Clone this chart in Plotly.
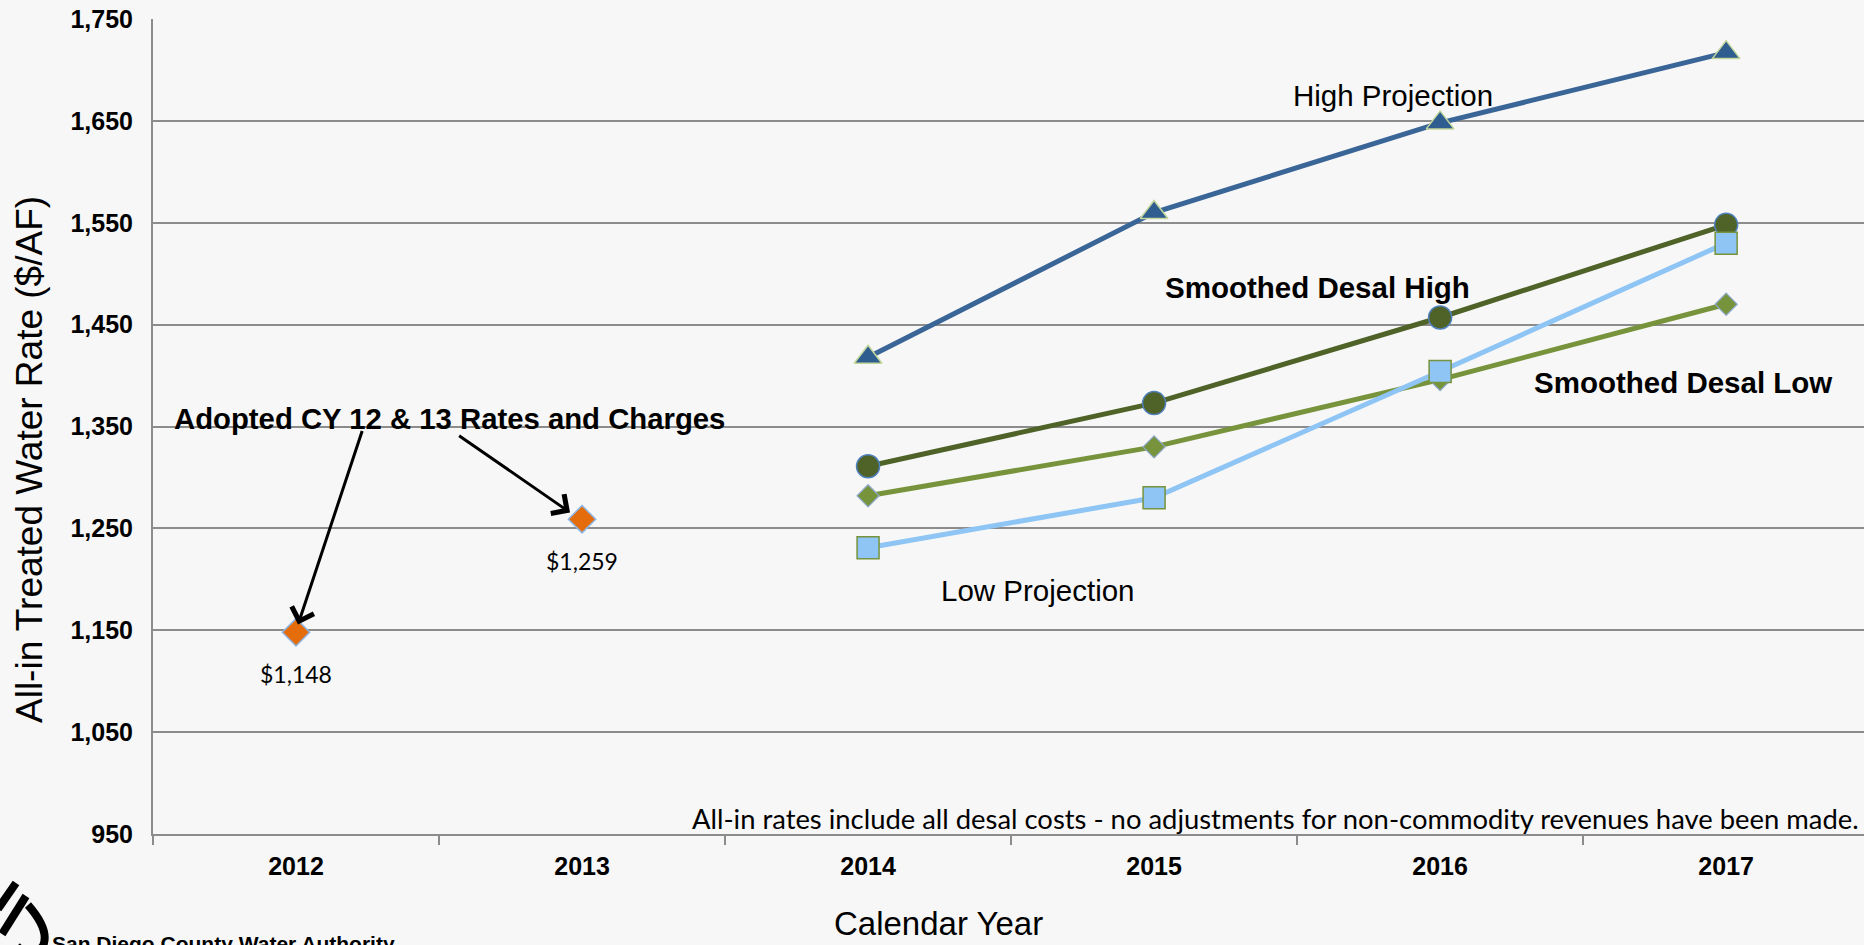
import plotly.graph_objects as go

# ---- data -------------------------------------------------------------
years = ["2012", "2013", "2014", "2015", "2016", "2017"]
adopted_years = ["2012", "2013"]
adopted_rates = [1148, 1259]

proj_years = ["2014", "2015", "2016", "2017"]
high_projection = [1418, 1560, 1648, 1717]
desal_high = [1311, 1373, 1457, 1548]
desal_low = [1282, 1330, 1396, 1470]
low_projection = [1231, 1280, 1404, 1530]

y_ticks = [950, 1050, 1150, 1250, 1350, 1450, 1550, 1650, 1750]

# ---- figure geometry ---------------------------------------------------
W, H = 1864, 945
M_L, M_R, M_T, M_B = 153, 0, 19, 111
BG = "#f7f7f7"
GRID = "#8c8c8c"
ARIAL = "Liberation Sans, Arial, sans-serif"
CALIBRI = "Lato, Carlito, Calibri, sans-serif"


def paper_x(px):
    return (px - M_L) / (W - M_L - M_R)


def paper_y(py):
    return (H - M_B - py) / (H - M_T - M_B)


fig = go.Figure()

fig.add_trace(go.Scatter(
    x=proj_years, y=high_projection, mode="lines+markers", name="High Projection",
    line=dict(color="#3a6597", width=5),
    marker=dict(symbol="triangle-up", size=24, color="#2f5d8f",
                line=dict(color="#c3d69b", width=1.5)),
))
fig.add_trace(go.Scatter(
    x=proj_years, y=desal_high, mode="lines+markers", name="Smoothed Desal High",
    line=dict(color="#4f6228", width=5),
    marker=dict(symbol="circle", size=23, color="#4f6228",
                line=dict(color="#4f81bd", width=1.5)),
))
fig.add_trace(go.Scatter(
    x=proj_years, y=desal_low, mode="lines+markers", name="Smoothed Desal Low",
    line=dict(color="#77933c", width=5),
    marker=dict(symbol="diamond", size=17, color="#77933c",
                line=dict(color="#8ea9c9", width=1.2)),
))
fig.add_trace(go.Scatter(
    x=proj_years, y=low_projection, mode="lines+markers", name="Low Projection",
    line=dict(color="#8ec5f4", width=5),
    marker=dict(symbol="square", size=22, color="#8ec5f4",
                line=dict(color="#77933c", width=1.5)),
))
fig.add_trace(go.Scatter(
    x=adopted_years, y=adopted_rates, mode="markers", name="Adopted",
    marker=dict(symbol="diamond", size=21, color="#e46c0a",
                line=dict(color="#8db4e2", width=1.5)),
))

annotations = []

# value labels under the adopted-rate markers (category index for x)
for yr, v in zip(adopted_years, adopted_rates):
    annotations.append(dict(
        x=years.index(yr), y=v, xref="x", yref="y", text=f"${v:,}",
        showarrow=False, yshift=-42,
        font=dict(family=CALIBRI, size=23, color="#000000"),
    ))

# series labels
series_labels = [
    ("High Projection", 3.836, 1675, False),
    ("Smoothed Desal High", 3.573, 1486, True),
    ("Smoothed Desal Low", 4.848, 1393, True),
    ("Low Projection", 2.594, 1189, False),
]
for txt, xi, yv, bold in series_labels:
    annotations.append(dict(
        x=xi, y=yv, xref="x", yref="y", showarrow=False,
        text=f"<b>{txt}</b>" if bold else txt,
        font=dict(family=ARIAL, size=29.5, color="#000000"),
    ))

# callout for the adopted rates
annotations.append(dict(
    x=0.538, y=1358, xref="x", yref="y", showarrow=False,
    text="<b>Adopted CY 12 & 13 Rates and Charges</b>",
    font=dict(family=ARIAL, size=29.3, color="#000000"),
))
for (tx, ty), (hx, hy) in [((0.233, 1347), (0.007, 1155.6)),
                           ((0.565, 1342), (0.958, 1265.6))]:
    annotations.append(dict(
        x=hx, y=hy, xref="x", yref="y", ax=tx, ay=ty, axref="x", ayref="y",
        text="", showarrow=True, arrowhead=4, arrowsize=1.5, arrowwidth=3,
        arrowcolor="#000000",
    ))

# footnote
annotations.append(dict(
    x=paper_x(1861), y=paper_y(818), xref="paper", yref="paper",
    xanchor="right", yanchor="middle", showarrow=False,
    text="All-in rates include all desal costs - no adjustments for non-commodity revenues have been made.",
    font=dict(family=CALIBRI, size=27.4, color="#000000"),
))

# axis titles
annotations.append(dict(
    x=paper_x(938), y=paper_y(923), xref="paper", yref="paper",
    xanchor="center", yanchor="middle", showarrow=False,
    text="Calendar Year", font=dict(family=ARIAL, size=33, color="#000000"),
))
annotations.append(dict(
    x=paper_x(29), y=paper_y(460), xref="paper", yref="paper",
    xanchor="center", yanchor="middle", showarrow=False, textangle=-90,
    text="All-in Treated Water Rate ($/AF)",
    font=dict(family=ARIAL, size=37, color="#000000"),
))

# organisation name in the footer
annotations.append(dict(
    x=paper_x(50), y=paper_y(930), xref="paper", yref="paper",
    xanchor="left", yanchor="top", showarrow=False,
    text="<b>San Diego County Water Authority</b>",
    font=dict(family=ARIAL, size=21, color="#000000"),
))

# footer logo drawn as simple strokes
shapes = [
    dict(type="line", xref="paper", yref="paper",
         x0=paper_x(16), y0=paper_y(883), x1=paper_x(-2), y1=paper_y(909),
         line=dict(color="#000000", width=8)),
    dict(type="line", xref="paper", yref="paper",
         x0=paper_x(26), y0=paper_y(896), x1=paper_x(2), y1=paper_y(934),
         line=dict(color="#000000", width=8)),
    dict(type="path", xref="paper", yref="paper",
         path=(f"M {paper_x(28)},{paper_y(905)} "
               f"Q {paper_x(50)},{paper_y(930)} {paper_x(43)},{paper_y(946)} "
               f"Q {paper_x(30)},{paper_y(960)} {paper_x(17)},{paper_y(946)}"),
         line=dict(color="#000000", width=8)),
]

fig.update_layout(
    width=W, height=H,
    margin=dict(l=M_L, r=M_R, t=M_T, b=M_B, autoexpand=False),
    paper_bgcolor=BG, plot_bgcolor=BG,
    showlegend=False,
    annotations=annotations,
    shapes=shapes,
    xaxis=dict(
        type="category", categoryorder="array", categoryarray=years,
        range=[-0.5, 5.482], tickson="boundaries",
        showgrid=False, zeroline=False,
        showline=True, linecolor=GRID, linewidth=2,
        ticks="outside", ticklen=9, tickwidth=2, tickcolor=GRID,
        tickfont=dict(family=ARIAL, size=25, color="#000000", weight="bold"),
        ticklabelstandoff=9,
    ),
    yaxis=dict(
        range=[950, 1750], tickvals=y_ticks, tickformat=",d",
        showgrid=True, gridcolor=GRID, gridwidth=2, zeroline=False,
        showline=True, linecolor=GRID, linewidth=2, ticks="",
        tickfont=dict(family=ARIAL, size=25, color="#000000", weight="bold"),
        ticklabelstandoff=13,
    ),
)

fig.write_html("out.html")
